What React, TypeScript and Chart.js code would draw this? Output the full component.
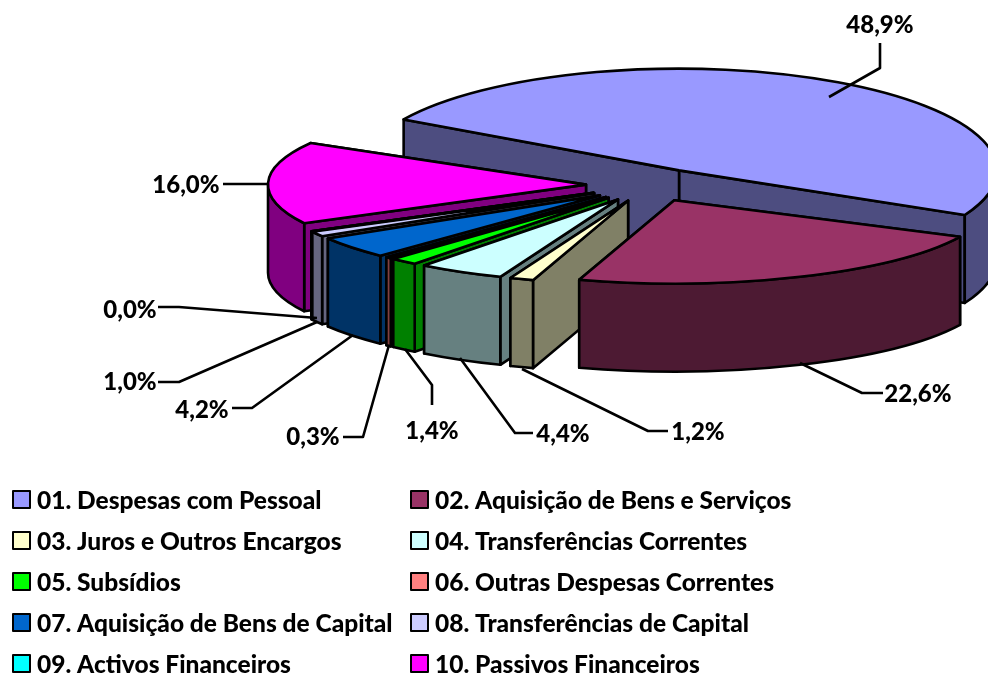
import React, { useEffect, useRef } from "react";
import { Chart, ArcElement, DoughnutController } from "chart.js";

Chart.register(ArcElement, DoughnutController);

const categories = [
  "01. Despesas com Pessoal",
  "02. Aquisição de Bens e Serviços",
  "03. Juros e Outros Encargos",
  "04. Transferências Correntes",
  "05. Subsídios",
  "06. Outras Despesas Correntes",
  "07. Aquisição de Bens de Capital",
  "08. Transferências de Capital",
  "09. Activos Financeiros",
  "10. Passivos Financeiros",
];
const shares = [48.9, 22.6, 1.2, 4.4, 1.4, 0.3, 4.2, 1.0, 0.0, 16.0];
const topColors = ["#9999FF", "#993366", "#FFFFCC", "#CCFFFF", "#00FF00", "#FF8080", "#0066CC", "#CCCCFF", "#00FFFF", "#FF00FF"];
const wallColors = ["#4D4D80", "#4D1A33", "#808066", "#668080", "#008000", "#804040", "#003366", "#666680", "#008080", "#800080"];

// Style: the 3D projection
const TILT = 0.262;
const BACK_TILT = 0.32;
const EXPLODE = 63.3;
const DEPTH = 88;
const RADIUS = 318;
const LINE = 2.6;
const FONT = '900 24px Lato, "Open Sans", sans-serif';
const LEGEND_FONT = '900 24.5px Lato, "Open Sans", sans-serif';

// Style: label anchors [text x, text y, align] and leader polylines, per slice
const labelAnchors: [number, number, CanvasTextAlign][] = [
  [880, 25, "center"], [918, 394, "center"], [698, 432, "center"], [563, 434, "center"], [432, 431, "center"],
  [313, 437, "center"], [202, 410, "center"], [130, 382, "center"], [130, 310, "center"], [186, 185, "center"],
];
const leaderLines: number[][][] = [
  [[880, 43], [880, 68], [829, 97]],
  [[883, 393], [862, 393], [800, 363]],
  [[668, 431], [648, 431], [522, 369]],
  [[533, 433], [515, 433], [460, 358]],
  [[432, 405], [432, 385], [405, 349]],
  [[343, 437], [363, 437], [389, 345]],
  [[232, 408], [252, 408], [353, 335]],
  [[158, 382], [179, 382], [317, 322]],
  [[158, 307], [179, 307], [317, 318]],
  [[223, 184], [247, 184], [269, 184]],
];
const legendColumns = [13, 411];
const legendRows = [501, 542, 583, 624, 665];

const midAngle = (el: any) => (el.startAngle + el.endAngle) / 2;
const tiltOf = (el: any) => (Math.sin(midAngle(el)) < -0.5 ? BACK_TILT : TILT);
const basePaint = ArcElement.prototype.draw;

const projection = {
  id: "projection",
  afterDatasetsUpdate(chart: any) {
    chart.getDatasetMeta(0).data.forEach((el: any) => {
      const mid = midAngle(el);
      el.x += Math.cos(mid) * EXPLODE;
      el.y += Math.sin(mid) * EXPLODE * TILT;
      el.draw = function (ctx: CanvasRenderingContext2D) {
        ctx.save();
        ctx.translate(this.x, this.y);
        ctx.scale(1, tiltOf(this));
        ctx.translate(-this.x, -this.y);
        basePaint.call(this, ctx);
        ctx.restore();
      };
    });
  },
  beforeDatasetsDraw(chart: any) {
    const { ctx } = chart;
    const arcs = chart.getDatasetMeta(0).data;
    const order = [0, 9, 8, 7, 6, 5, 4, 3, 2, 1];
    ctx.save();
    ctx.strokeStyle = "#000";
    ctx.lineWidth = LINE;
    ctx.lineJoin = "round";
    for (const i of order) {
      const el = arcs[i];
      const k = tiltOf(el);
      const r = el.outerRadius;
      ctx.fillStyle = wallColors[i];
      const face = (a: number) => {
        const px = el.x + Math.cos(a) * r;
        const py = el.y + Math.sin(a) * r * k;
        ctx.beginPath();
        ctx.moveTo(el.x, el.y);
        ctx.lineTo(px, py);
        ctx.lineTo(px, py + DEPTH);
        ctx.lineTo(el.x, el.y + DEPTH);
        ctx.closePath();
        ctx.fill();
        ctx.stroke();
      };
      face(el.endAngle);
      face(el.startAngle);
      for (let n = 0; n < 3; n++) {
        const from = Math.max(el.startAngle, n * 2 * Math.PI);
        const to = Math.min(el.endAngle, n * 2 * Math.PI + Math.PI);
        if (to <= from) continue;
        ctx.beginPath();
        ctx.ellipse(el.x, el.y, r, r * k, 0, from, to);
        ctx.ellipse(el.x, el.y + DEPTH, r, r * k, 0, to, from, true);
        ctx.closePath();
        ctx.fill();
        ctx.stroke();
      }
    }
    ctx.restore();
  },
  afterDatasetsDraw(chart: any) {
    const { ctx } = chart;
    const arcs = chart.getDatasetMeta(0).data;
    ctx.save();
    ctx.strokeStyle = "#000";
    ctx.lineJoin = "round";
    ctx.lineWidth = LINE;
    arcs.forEach((el: any) => {
      ctx.beginPath();
      ctx.moveTo(el.x, el.y);
      ctx.ellipse(el.x, el.y, el.outerRadius, el.outerRadius * tiltOf(el), 0, el.startAngle, el.endAngle);
      ctx.closePath();
      ctx.stroke();
    });
    // leaders and percentage labels
    ctx.fillStyle = "#000";
    ctx.font = FONT;
    ctx.textBaseline = "middle";
    shares.forEach((share, i) => {
      ctx.beginPath();
      leaderLines[i].forEach(([x, y], j) => (j ? ctx.lineTo(x, y) : ctx.moveTo(x, y)));
      ctx.stroke();
      const [x, y, align] = labelAnchors[i];
      ctx.textAlign = align;
      ctx.fillText(share.toFixed(1).replace(".", ",") + "%", x, y);
    });
    // legend
    ctx.textAlign = "left";
    ctx.font = LEGEND_FONT;
    categories.forEach((name, i) => {
      const x = legendColumns[i % 2];
      const y = legendRows[Math.floor(i / 2)];
      ctx.fillStyle = topColors[i];
      ctx.fillRect(x, y - 10, 17, 17);
      ctx.lineWidth = 2;
      ctx.strokeRect(x, y - 10, 17, 17);
      ctx.fillStyle = "#000";
      ctx.fillText(name, x + 24, y);
    });
    ctx.restore();
  },
};

export default function App() {
  const ref = useRef<HTMLCanvasElement>(null);
  useEffect(() => {
    document.body.style.margin = "0";
    const chart = new Chart(ref.current!, {
      type: "doughnut",
      data: {
        labels: categories,
        datasets: [{ data: shares, backgroundColor: topColors, borderWidth: 0, clip: false } as any],
      },
      options: {
        responsive: false,
        animation: false,
        events: [],
        cutout: 0,
        radius: RADIUS,
        rotation: 300,
        layout: { padding: { left: 310.6, right: 0, top: 0, bottom: 305 } },
        plugins: { legend: { display: false }, tooltip: { enabled: false } },
      } as any,
      plugins: [projection],
    });
    return () => chart.destroy();
  }, []);
  return <canvas ref={ref} width={988} height={675} style={{ display: "block", width: 988, height: 675 }} />;
}
